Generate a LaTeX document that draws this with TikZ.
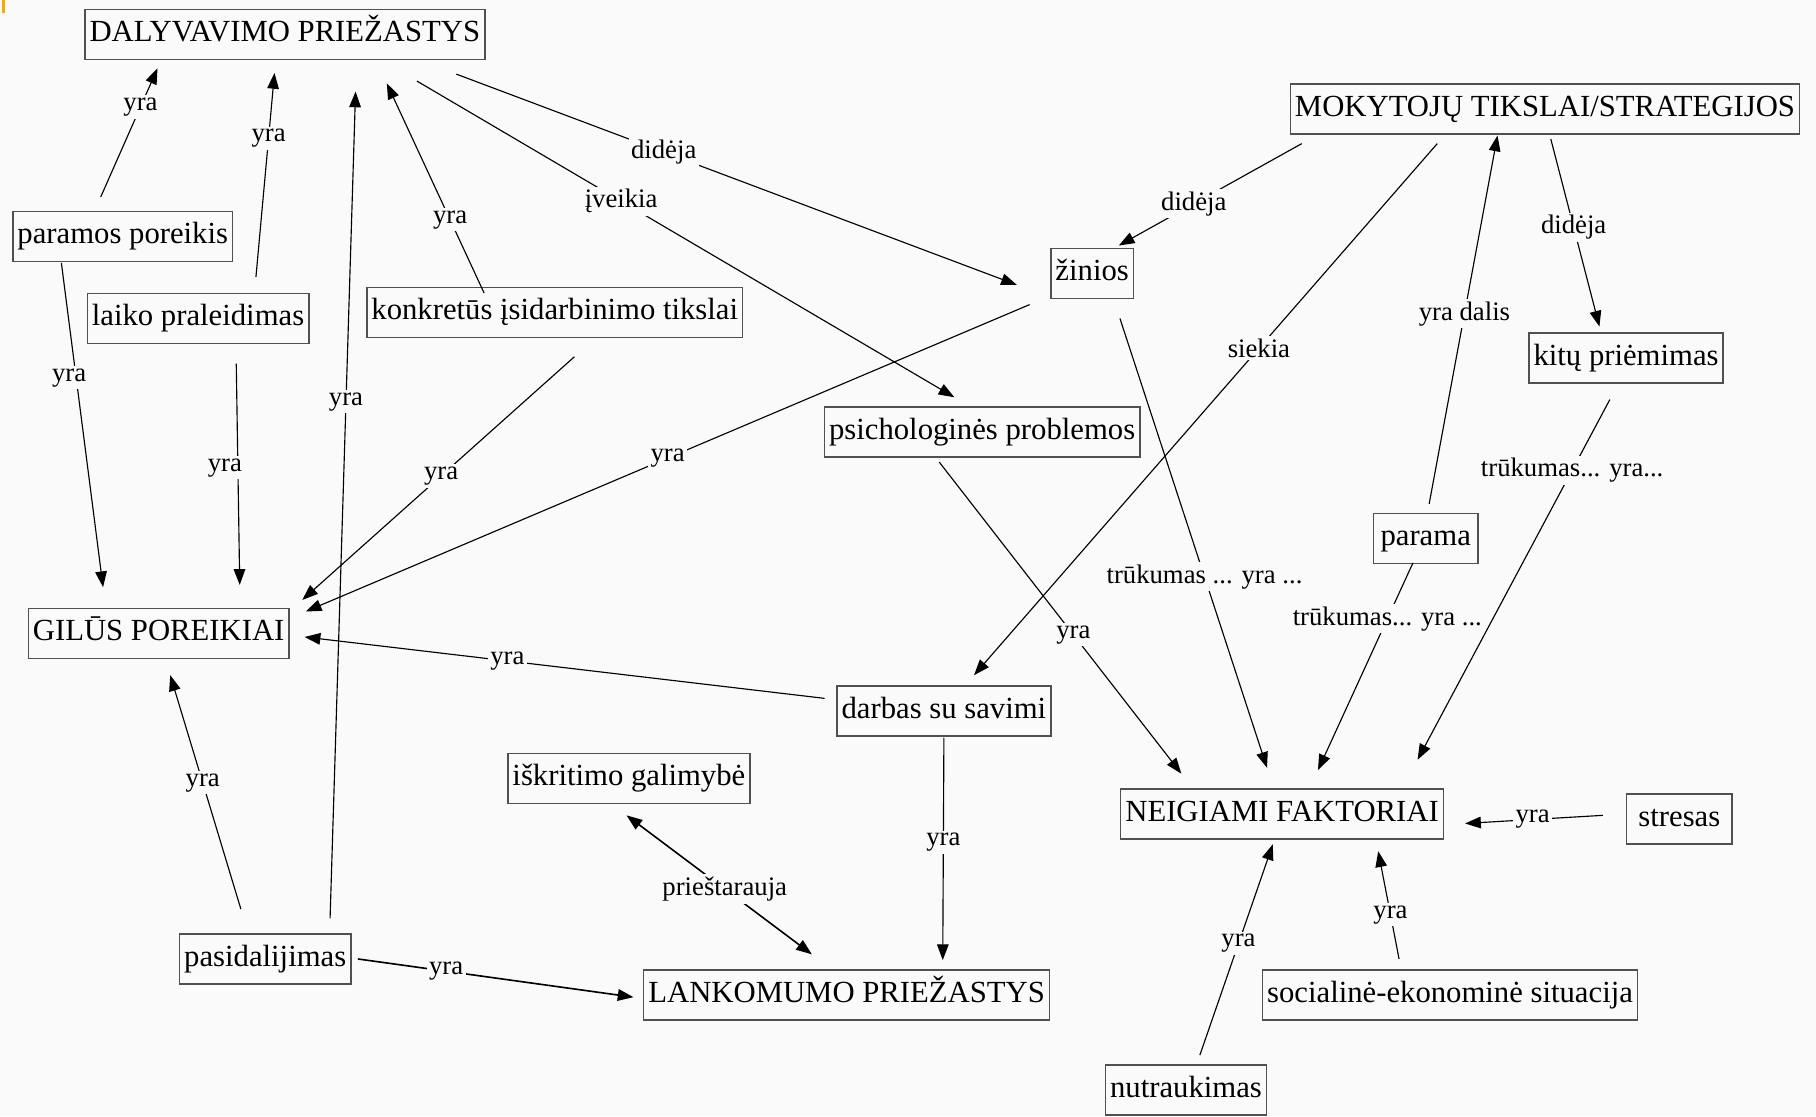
\documentclass[tikz,border=0pt]{standalone}
\usepackage{fontspec}
\setmainfont{Liberation Serif}
\usetikzlibrary{arrows.meta,calc}
\definecolor{bg}{HTML}{FAFAFA}
\definecolor{boxline}{HTML}{505050}
\begin{document}
\begin{tikzpicture}[x=0.025cm, y=-0.025cm,
  box/.style={draw=boxline, line width=0.9pt, fill=bg, font=\fontsize{18.85}{22}\selectfont,
    minimum height=1.08cm, inner xsep=0.1cm, text height=0.45cm, text depth=0.14cm},
  lbl/.style={fill=bg, font=\fontsize{16.4}{19}\selectfont, inner sep=1.5pt},
  arr/.style={-{Triangle[length=0.34cm,width=0.25cm]}, line width=0.7pt},
  arrboth/.style={{Triangle[length=0.34cm,width=0.25cm]}-{Triangle[length=0.34cm,width=0.25cm]}, line width=1pt}]
\fill[bg] (0,0) rectangle (1568,964);
\useasboundingbox (0,0) rectangle (1568,964);
\draw[orange!70!yellow, line width=1.5pt] (3,0) -- (3,11.5);

\node[box] (dal) at (246,30) {DALYVAVIMO PRIEŽASTYS};
\node[box] (mok) at (1334,94) {MOKYTOJŲ TIKSLAI/STRATEGIJOS};
\node[box] (pp) at (106,204) {paramos poreikis};
\node[box] (lp) at (171,275) {laiko praleidimas};
\node[box] (kt) at (479,270) {konkretūs įsidarbinimo tikslai};
\node[box] (zin) at (943,236) {žinios};
\node[box] (kit) at (1404,309) {kitų priėmimas};
\node[box] (psi) at (848,373) {psichologinės problemos};
\node[box, minimum width=2.25cm] (par) at (1231,465) {parama};
\node[box] (gil) at (137,547) {GILŪS POREIKIAI};
\node[box] (dar) at (815,614) {darbas su savimi};
\node[box] (isk) at (543,672) {iškritimo galimybė};
\node[box] (neg) at (1107,703) {NEIGIAMI FAKTORIAI};
\node[box, minimum width=2.275cm] (str) at (1450,707) {stresas};
\node[box] (pas) at (229,828) {pasidalijimas};
\node[box] (lan) at (731,859) {LANKOMUMO PRIEŽASTYS};
\node[box] (soc) at (1252,859) {socialinė-ekonominė situacija};
\node[box] (nut) at (1024,941) {nutraukimas};

\draw[arr] ($(pp)+(-19,-34)$) -- node[lbl,pos=0.70]{yra} ($(dal)+(-110,29)$);
\draw[arr] ($(lp)+(50,-36)$) -- node[lbl,pos=0.68]{yra} ($(dal)+(-9,33)$);
\draw[arr] ($(pas)+(56,-35)$) -- node[lbl,pos=0.625]{yra} ($(dal)+(61,49)$);
\draw[arr] ($(kt)+(-61,-17)$) -- node[lbl,pos=0.35]{yra} ($(dal)+(88,42)$);
\draw[arr] ($(dal)+(148,34)$) -- node[lbl,pos=0.37]{didėja} ($(zin)+(-65,10)$);
\draw[arr] ($(dal)+(114,40)$) -- node[lbl,pos=0.38]{įveikia} ($(psi)+(-24,-30)$);

\draw[arr] ($(pp)+(-53,23)$) -- node[lbl,pos=0.354,xshift=-0.15cm]{yra} ($(gil)+(-48,-40)$);
\draw[arr] ($(lp)+(33,39)$) -- node[lbl,pos=0.47,xshift=-0.28cm]{yra} ($(gil)+(70,-42)$);
\draw[arr] ($(kt)+(17,38)$) -- node[lbl,pos=0.49]{yra} ($(gil)+(124,-29)$);
\draw[arr] ($(zin)+(-54,27)$) -- node[lbl,pos=0.50]{yra} ($(gil)+(127,-19)$);
\draw[arr] ($(dar)+(-103,-11)$) -- node[lbl,pos=0.61]{yra} ($(gil)+(126,3)$);
\draw[arr] ($(pas)+(-21,-43)$) -- node[lbl,pos=0.54]{yra} ($(gil)+(10,36)$);

\draw[arr] ($(mok)+(-210,30)$) -- node[lbl,pos=0.59]{didėja} ($(zin)+(23,-24)$);
\draw[arr] ($(mok)+(5,26)$) -- node[lbl,pos=0.47]{didėja} ($(kit)+(-23,-27)$);
\draw[arr] ($(mok)+(-93,30)$) -- node[lbl,pos=0.385]{siekia} ($(dar)+(26,-31)$);
\draw[arr] ($(par)+(3,-30)$) -- node[lbl,pos=0.516]{yra dalis} ($(mok)+(-41,23)$);

\draw[arr] ($(zin)+(24,39)$) -- node[lbl,pos=0.575]{trūkumas ... yra ...} ($(neg)+(-13,-40)$);
\draw[arr] ($(psi)+(-37,26)$) -- node[lbl,pos=0.554]{yra} ($(neg)+(-87,-35)$);
\draw[arr] ($(par)+(-11,21)$) -- node[lbl,pos=0.27]{trūkumas... yra ...} ($(neg)+(31,-38)$);
\draw[arr] ($(kit)+(-14,36)$) -- node[lbl,pos=0.196]{trūkumas... yra...} ($(neg)+(117,-47)$);

\draw[arr] ($(dar)+(0,23)$) -- node[lbl,pos=0.47]{yra} ($(lan)+(83,-30)$);
\draw[arrboth] ($(isk)+(-2,32)$) -- node[lbl,pos=0.53]{prieštarauja} ($(lan)+(-30,-35)$);
\draw[arr, line width=1pt] ($(pas)+(80,0)$) -- node[lbl,pos=0.32]{yra} ($(lan)+(-184,2)$);

\draw[arr] ($(str)+(-66,-3)$) -- node[lbl,pos=0.51]{yra} ($(neg)+(158,8)$);
\draw[arr] ($(nut)+(12,-30)$) -- node[lbl,pos=0.53]{yra} ($(neg)+(-8,26)$);
\draw[arr] ($(soc)+(-44,-31)$) -- node[lbl,pos=0.41]{yra} ($(neg)+(83,32)$);
\end{tikzpicture}
\end{document}
